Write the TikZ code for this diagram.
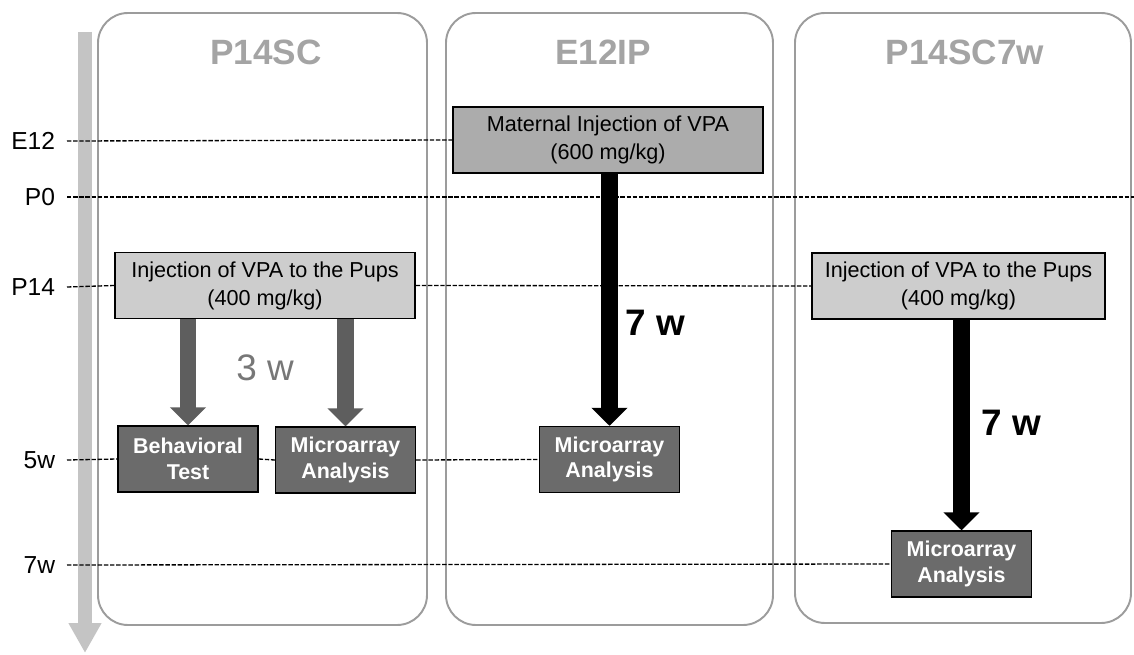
\documentclass[tikz,border=0pt]{standalone}
\usepackage{fontspec}
\setmainfont{Liberation Sans}
\usetikzlibrary{arrows.meta}
\definecolor{panelgray}{HTML}{9C9C9C}
\definecolor{titlegray}{HTML}{A4A4A4}
\definecolor{axisgray}{HTML}{C4C4C4}
\definecolor{boxlight}{HTML}{CDCDCD}
\definecolor{boxmid}{HTML}{ACACAC}
\definecolor{boxdark}{HTML}{6B6B6B}
\definecolor{arrowgray}{HTML}{5E5E5E}
\definecolor{weekgray}{HTML}{777777}
\begin{document}
\begin{tikzpicture}[x=0.02cm,y=-0.02cm,
	panel/.style={draw=panelgray,line width=1.1pt,rounded corners=0.6cm},
	title/.style={text=titlegray,font=\fontsize{20}{24}\selectfont\bfseries},
	tlabel/.style={anchor=east,inner xsep=0pt,outer xsep=6.8pt,font=\fontsize{14}{16}\selectfont},
	lightbox/.style={draw,line width=0.8pt,fill=boxlight,align=center,minimum height=1.32cm,font=\fontsize{12.3}{16}\selectfont},
	darkbox/.style={draw,line width=0.8pt,fill=boxdark,text=white,align=center,minimum width=2.8cm,minimum height=1.32cm,font=\fontsize{12.2}{14.5}\selectfont\bfseries},
	timeline/.style={dash pattern=on 2.5pt off 1pt,line width=0.75pt},
	fatarrow/.style={line width=0.34cm,-{Triangle[width=0.7cm,length=0.36cm]}},
	weeks/.style={font=\fontsize{21}{24}\selectfont\bfseries}]
		\useasboundingbox (0,0) rectangle (1134,655);
		\draw[panel] (98,13) rectangle (427,625);
		\draw[panel] (446,13) rectangle (773,625);
		\draw[panel] (795,13) rectangle (1131,623);
		\node[title] (t1) at (266,52) {P14SC};
		\node[title] (t2) at (603,52) {E12IP};
		\node[title] (t3) at (965,52) {P14SC7w};
		
		\coordinate (tstart) at (85,32);
		\coordinate (tend) at (85,653);
		\draw[axisgray,line width=0.3cm,-{Triangle[width=0.62cm,length=0.6cm]}] (tstart) -- (tend);
		
		\node[tlabel] (e12) at (67,141) {E12};
		\node[tlabel] (p0) at (67,197) {P0};
		\node[tlabel] (p14) at (67,287) {P14};
		\node[tlabel] (w5) at (67,460) {5w};
		\node[tlabel] (w7) at (67,565) {7w};
		\coordinate (p0end) at (1134,197);
		
		\node[lightbox,minimum width=6cm] (injsc) at (265,285.5) {Injection of VPA to the Pups\\(400 mg/kg)};
		\node[lightbox,fill=boxmid,minimum width=6.2cm] (matinj) at (608,140) {Maternal Injection of VPA\\(600 mg/kg)};
		\node[lightbox,minimum width=5.86cm] (injsc7) at (958.5,286) {Injection of VPA to the Pups\\(400 mg/kg)};
		\node[darkbox] (behav) at (188,459) {Behavioral\\Test};
		\node[darkbox] (micro1) at (345.5,460) {Microarray\\Analysis};
		\node[darkbox] (micro2) at (609.5,459.5) {Microarray\\Analysis};
		\node[darkbox] (micro3) at (961.5,564) {Microarray\\Analysis};
		
		\draw[timeline] (e12.east) -- (matinj.west);
		\draw[timeline] (p0.east) -- (p0end);
		\draw[timeline] (p14.east) -- (injsc.west) (injsc.east) -- (injsc7.west);
		\draw[timeline] (w5.east) -- (behav.west) (behav.east) -- (micro1.west) (micro1.east) -- (micro2.west);
		\draw[timeline] (w7.east) -- (micro3.west);
		
		\draw[fatarrow,arrowgray] (injsc.south -| behav.north) -- (behav.north);
		\draw[fatarrow,arrowgray] (injsc.south -| micro1.north) -- (micro1.north);
		\draw[fatarrow] (matinj.south -| micro2.north) -- (micro2.north);
		\draw[fatarrow] (injsc7.south -| micro3.north) -- (micro3.north);
		
		\node[weeks,text=weekgray,font=\fontsize{21}{24}\selectfont\mdseries] (wk3) at (265,368) {3 w};
		\node[weeks] (wk7a) at (655,323) {7 w};
		\node[weeks] (wk7b) at (1011,423) {7 w};
		\end{tikzpicture}
\end{document}
